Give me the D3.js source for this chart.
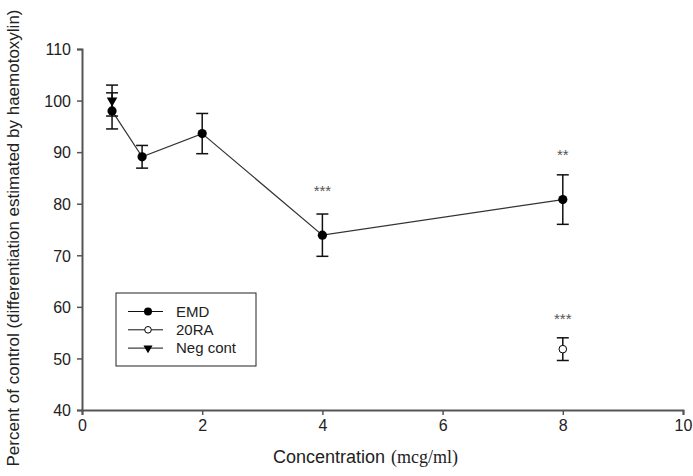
<!DOCTYPE html>
<html lang="en">
<head>
    <meta charset="UTF-8">
    <title>Percent of control</title>
    <style>
        body{ margin:0; background:#fff; }
        svg text{ font-family: "Liberation Sans", Arial, sans-serif; }
    </style>
</head>
<body>
    <div id="chart"></div>
    <script src="https://cdn.jsdelivr.net/npm/d3@7"></script>
    <script>
        // data
        var emdConc = [0.5, 1, 2, 4, 8];
        var emdMean = [98, 89.1, 93.6, 73.9, 80.8];
        var emdErr  = [3.5, 2.2, 3.9, 4.1, 4.8];
        var raConc = [8];
        var raMean = [51.8];
        var raErr  = [2.2];
        var negConc = [0.5];
        var negMean = [100];
        var negErr  = [3];
        // significance marks: concentration, label level, text
        var starConc = [4, 8, 8];
        var starLevel = [83.2, 90.2, 58.3];
        var starText = ["***", "**", "***"];
        var xTicks = [0, 2, 4, 6, 8, 10];
        var yTicks = [40, 50, 60, 70, 80, 90, 100, 110];
        var legendNames = ["EMD", "20RA", "Neg cont"];

        var W = 693, H = 476;
        var svg = d3.select("#chart").append("svg")
            .attr("width", W).attr("height", H);

        var x = d3.scaleLinear().domain([0, 10]).range([82, 683]);
        var y = d3.scaleLinear().domain([40, 110]).range([410, 49]);

        // axes
        var xAxis = svg.append("g")
            .attr("transform", "translate(0," + y(40) + ")")
            .call(d3.axisBottom(x).tickValues(xTicks).tickSizeOuter(0).tickSize(5).tickPadding(5));
        var yAxis = svg.append("g")
            .attr("transform", "translate(" + x(0) + ",0)")
            .call(d3.axisLeft(y).tickValues(yTicks).tickSizeOuter(0).tickSize(5).tickPadding(6));

        [xAxis, yAxis].forEach(function(a){
            a.select(".domain").attr("stroke", "#555").attr("stroke-width", 2);
            a.selectAll(".tick line").attr("stroke", "#555").attr("stroke-width", 1.5);
            a.selectAll(".tick text")
                .attr("fill", "#222")
                .style("font-size", "16px")
                .style("font-family", '"Liberation Sans", Arial, sans-serif');
        });
        yAxis.selectAll(".tick text").attr("dy", "0.36em");

        // axis titles
        svg.append("text")
            .attr("x", 273).attr("y", 463)
            .attr("fill", "#222")
            .style("font-size", "18px")
            .text("Concentration");
        svg.append("text")
            .attr("x", 391).attr("y", 463)
            .attr("fill", "#222")
            .style("font-family", '"Liberation Serif", "Times New Roman", serif')
            .style("font-size", "18px")
            .text("(mcg/ml)");

        svg.append("text")
            .attr("transform", "translate(19,238) rotate(-90)")
            .attr("text-anchor", "middle")
            .attr("fill", "#222")
            .style("font-size", "17px")
            .text("Percent of control (differentiation estimated by haemotoxylin)");

        // series helpers
        function pts(cx, cy, ce){
            return cx.map(function(v, i){ return {x:v, y:cy[i], e:ce[i]}; });
        }
        var emd = pts(emdConc, emdMean, emdErr);
        var ra = pts(raConc, raMean, raErr);
        var neg = pts(negConc, negMean, negErr);

        // connecting line
        svg.append("path")
            .datum(emd)
            .attr("fill", "none")
            .attr("stroke", "#333")
            .attr("stroke-width", 1.2)
            .attr("d", d3.line().x(function(d){ return x(d.x); }).y(function(d){ return y(d.y); }));

        // error bars
        function errBars(data){
            var g = svg.append("g").attr("stroke", "#111").attr("stroke-width", 1.5);
            data.forEach(function(d){
                var cx = x(d.x), t = y(d.y + d.e), b = y(d.y - d.e);
                g.append("line").attr("x1", cx).attr("x2", cx).attr("y1", t).attr("y2", b);
                g.append("line").attr("x1", cx - 6).attr("x2", cx + 6).attr("y1", t).attr("y2", t);
                g.append("line").attr("x1", cx - 6).attr("x2", cx + 6).attr("y1", b).attr("y2", b);
            });
        }
        errBars(neg);
        errBars(emd);
        errBars(ra);

        var triangle = d3.symbol().type(d3.symbolTriangle).size(48);

        svg.append("g").selectAll("path")
            .data(neg).enter().append("path")
            .attr("d", triangle)
            .attr("transform", function(d){ return "translate(" + x(d.x) + "," + y(d.y) + ") rotate(180)"; })
            .attr("fill", "#000");

        svg.append("g").selectAll("circle")
            .data(emd).enter().append("circle")
            .attr("cx", function(d){ return x(d.x); })
            .attr("cy", function(d){ return y(d.y); })
            .attr("r", 4.6)
            .attr("fill", "#000");

        svg.append("g").selectAll("circle")
            .data(ra).enter().append("circle")
            .attr("cx", function(d){ return x(d.x); })
            .attr("cy", function(d){ return y(d.y); })
            .attr("r", 3.8)
            .attr("fill", "#fff")
            .attr("stroke", "#000")
            .attr("stroke-width", 1);

        // significance stars
        svg.append("g").selectAll("text")
            .data(starText).enter().append("text")
            .attr("x", function(d, i){ return x(starConc[i]); })
            .attr("y", function(d, i){ return y(starLevel[i]) + 8.5; })
            .attr("text-anchor", "middle")
            .attr("fill", "#555")
            .style("font-size", "15px")
            .text(function(d){ return d; });

        // legend
        var lg = svg.append("g").attr("transform", "translate(116,293)");
        lg.append("rect")
            .attr("width", 140).attr("height", 73)
            .attr("fill", "#fff")
            .attr("stroke", "#222").attr("stroke-width", 1);
        var row = lg.selectAll(".row")
            .data(legendNames).enter().append("g")
            .attr("transform", function(d, i){ return "translate(0," + (18.5 + i * 18.3) + ")"; });
        row.append("line")
            .attr("x1", 12).attr("x2", 47).attr("y1", 0).attr("y2", 0)
            .attr("stroke", "#111").attr("stroke-width", 1);
        row.each(function(d, i){
            var r = d3.select(this);
            if (i == 0) r.append("circle").attr("cx", 32).attr("r", 4).attr("fill", "#000");
            if (i == 1) r.append("circle").attr("cx", 32).attr("r", 3.3).attr("fill", "#fff").attr("stroke", "#000");
            if (i == 2) r.append("path").attr("d", d3.symbol().type(d3.symbolTriangle).size(36))
                .attr("transform", "translate(32,0) rotate(180)").attr("fill", "#000");
        });
        row.append("text")
            .attr("x", 60).attr("dy", "0.35em")
            .attr("fill", "#222")
            .style("font-size", "15px")
            .text(function(d){ return d; });
    </script>
</body>
</html>
